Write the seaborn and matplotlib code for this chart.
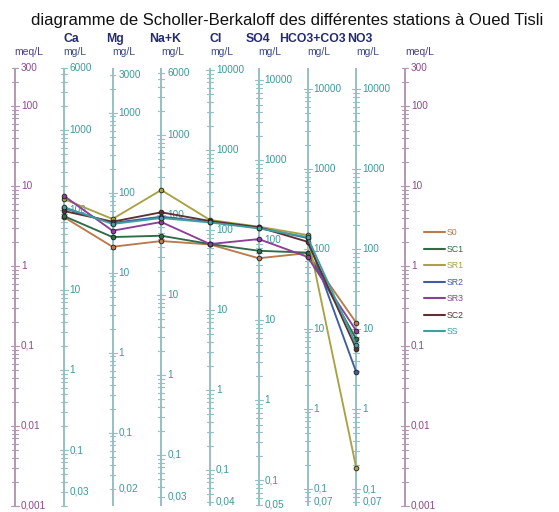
import numpy as np
import pandas as pd
import matplotlib
matplotlib.use("Agg")
import matplotlib.pyplot as plt
from matplotlib.lines import Line2D
import seaborn as sns

# Ions on the diagram and their equivalent weights (mg per meq)
ions = ["Ca", "Mg", "Na+K", "Cl", "SO4", "HCO3+CO3", "NO3"]
eq_weight = [20.0, 12.15, 23.0, 35.45, 48.0, 61.0, 62.0]

# mg/L labels shown on each ion scale
mg_top = [6000, 3000, 6000, 10000, 10000, 10000, 10000]
mg_bottom = [0.03, 0.02, 0.03, 0.04, 0.05, 0.07, 0.07]
mg_decades = [0.1, 1, 10, 100, 1000]
meq_labels = [300, 100, 10, 1, 0.1, 0.01, 0.001]

# Station concentrations in meq/L (Ca, Mg, Na+K, Cl, SO4, HCO3+CO3, NO3)
stations = ["S0", "SC1", "SR1", "SR2", "SR3", "SC2", "SS"]
s0 = [4.10, 1.74, 2.05, 1.86, 1.25, 1.45, 0.195]
sc1 = [4.22, 2.30, 2.39, 1.88, 1.55, 1.47, 0.122]
sr1 = [6.88, 3.87, 8.91, 3.76, 3.10, 2.44, 0.0030]
sr2 = [5.31, 3.45, 4.13, 3.55, 3.00, 2.24, 0.047]
sr3 = [7.56, 2.76, 3.55, 1.88, 2.17, 1.30, 0.155]
sc2 = [4.87, 3.58, 4.69, 3.65, 3.05, 2.01, 0.092]
ss = [5.46, 3.35, 3.98, 3.50, 2.95, 2.30, 0.103]
station_values = [s0, sc1, sr1, sr2, sr3, sc2, ss]
colors = ["#b97a4c", "#2f6b46", "#a8a244", "#3e5f9f", "#8b3f99", "#5e3034", "#3f9fa0"]

sns.set_theme(style="white")
plt.rcParams["font.family"] = ["Liberation Sans", "DejaVu Sans"]

W, H = 559, 512
fig = plt.figure(figsize=(W / 100, H / 100), dpi=100)
ax = fig.add_axes([0, 0, 1, 1])

# horizontal layout: scale 0 = left meq/L axis, 1..7 = ions, 8 = right meq/L axis
X0, DX = 15.0, 48.75
ax.set_xlim(-X0 / DX, (W - X0) / DX)
# vertical layout: 1 meq/L at 266 px from the top, 80 px per decade
Y1, DEC = 266.0, 80.0
ax.set_yscale("log")
ax.set_ylim(10 ** ((Y1 - H) / DEC), 10 ** (Y1 / DEC))
ax.axis("off")

ION_LINE = "#95c0c5"
MEQ_LINE = "#b398b3"
ION_TXT = "#3c989b"
MEQ_TXT = "#8a4a8b"
MEQ_MIN, MEQ_MAX = 0.001, 300.0


def fmt(v):
    return f"{v:g}".replace(".", ",")


def draw_scale(xpos, w, line_color, txt_color, labels):
    """Vertical log scale; tick values are in the scale's unit, meq = value / w."""
    ax.plot([xpos, xpos], [MEQ_MIN, MEQ_MAX], color=line_color, lw=1.4,
            solid_capstyle="butt", zorder=1)
    lo, hi = MEQ_MIN * w, MEQ_MAX * w
    for n in range(-4, 6):
        for m in range(1, 10):
            v = m * 10.0 ** n
            if lo * 0.999 <= v <= hi * 1.001:
                half = (4.0 if m == 1 else 2.8) / DX
                ax.plot([xpos - half, xpos + half], [v / w, v / w],
                        color=line_color, lw=0.85, zorder=1)
    for v in labels:
        ax.text(xpos + 6 / DX, v / w, fmt(v), color=txt_color, fontsize=7.2,
                ha="left", va="center", zorder=2)


draw_scale(0, 1.0, MEQ_LINE, MEQ_TXT, meq_labels)
draw_scale(8, 1.0, MEQ_LINE, MEQ_TXT, meq_labels)
for i, w in enumerate(eq_weight):
    labs = [mg_top[i]] + [d for d in mg_decades if d < mg_top[i]] + [mg_bottom[i]]
    draw_scale(i + 1, w, ION_LINE, ION_TXT, labs)

# station profiles
rows = []
for name, vals in zip(stations, station_values):
    for j, v in enumerate(vals):
        rows.append({"station": name, "pos": j + 1, "meq": v})
df = pd.DataFrame(rows)
sns.lineplot(data=df, x="pos", y="meq", hue="station", hue_order=stations,
             palette=colors, sort=False, marker="o", markersize=3.4,
             markeredgecolor="#1e1e1e", markeredgewidth=0.6, linewidth=1.35,
             legend=False, ax=ax, zorder=3)
ax.set_xlim(-X0 / DX, (W - X0) / DX)
ax.set_ylim(10 ** ((Y1 - H) / DEC), 10 ** (Y1 / DEC))


def px(x, y):
    return x / W, 1 - y / H


fig.text(*px(31, 21), "diagramme de Scholler-Berkaloff des différentes stations à Oued Tisli",
         fontsize=12.0, color="#111111", ha="left", va="center")

name_x = [71, 115, 165, 216, 258, 312, 360]
for name, x in zip(ions, name_x):
    fig.text(*px(x, 39), name, fontsize=8.8, fontweight="bold", color="#232b72",
             ha="center", va="center")

fig.text(*px(14, 52), "meq/L", fontsize=7.5, color="#4b3f86", ha="left", va="center")
for i in range(len(ions)):
    fig.text(*px(X0 + DX * (i + 1), 52), "mg/L", fontsize=7.5, color="#3d4a8a",
             ha="left", va="center")
fig.text(*px(X0 + DX * 8, 52), "meq/L", fontsize=7.5, color="#4b3f86", ha="left", va="center")

handles = [Line2D([], [], color=c, lw=1.5) for c in colors]
leg = ax.legend(handles, stations, loc="upper left", bbox_to_anchor=px(420, 224),
                bbox_transform=fig.transFigure, frameon=False, fontsize=6.3,
                handlelength=2.3, handletextpad=0.3, labelspacing=0.85, borderpad=0)
for t, c in zip(leg.get_texts(), colors):
    t.set_color(c)

fig.savefig("out.png", dpi=100, facecolor="white")
